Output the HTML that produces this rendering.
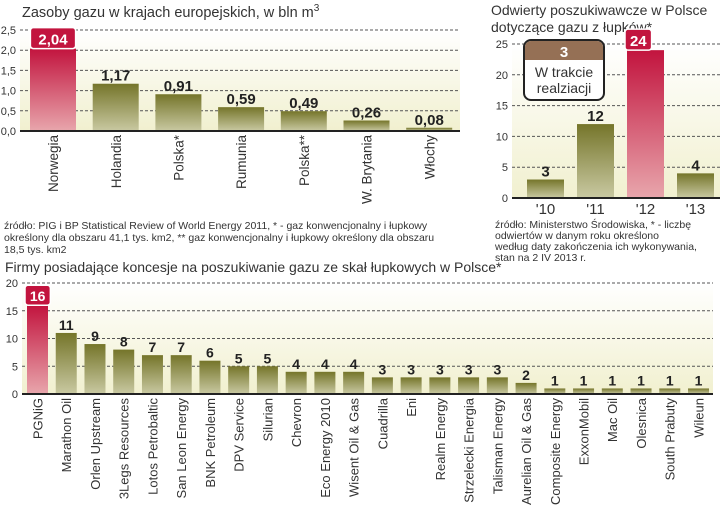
<!DOCTYPE html>
<html><head><meta charset="utf-8">
<style>
body{margin:0;background:#fff;}
svg{display:block;font-family:"Liberation Sans",sans-serif;}
.t{font-family:"Liberation Sans",sans-serif;fill:#333;}
.v{font-family:"Liberation Sans",sans-serif;font-weight:bold;fill:#222;}
</style></head><body>
<svg id="s" width="720" height="513" viewBox="0 0 720 513" xmlns="http://www.w3.org/2000/svg">
<defs>
<linearGradient id="ol" x1="0" y1="0" x2="0" y2="1"><stop offset="0" stop-color="#75752a"/><stop offset="1" stop-color="#c9c9a2"/></linearGradient>
<linearGradient id="rd" x1="0" y1="0" x2="0" y2="1"><stop offset="0" stop-color="#c2143e"/><stop offset="1" stop-color="#e8a6ac"/></linearGradient>
<linearGradient id="bg" x1="0" y1="0" x2="0" y2="1"><stop offset="0" stop-color="#ffffff"/><stop offset="1" stop-color="#f1f0cf"/></linearGradient>
</defs>
<text class="t" x="22" y="17" font-size="14.5">Zasoby gazu w krajach europejskich, w bln m<tspan font-size="10" dy="-6">3</tspan></text>
<text class="t" x="491" y="15" font-size="14">Odwierty poszukiwawcze w Polsce</text>
<text class="t" x="491" y="32" font-size="14">dotyczące gazu z łupków*</text>
<g font-size="10.5">
<text class="t" x="4" y="229">źródło: PIG i BP Statistical Review of World Energy 2011, * - gaz konwencjonalny i łupkowy</text>
<text class="t" x="4" y="241">określony dla obszaru 41,1 tys. km2, ** gaz konwencjonalny i łupkowy określony dla obszaru</text>
<text class="t" x="4" y="253">18,5 tys. km2</text>
</g>
<g font-size="10.5">
<text class="t" x="495" y="228">źródło: Ministerstwo Środowiska, * - liczbę</text>
<text class="t" x="495" y="239">odwiertów w danym roku określono</text>
<text class="t" x="495" y="250">według daty zakończenia ich wykonywania,</text>
<text class="t" x="495" y="261">stan na 2 IV 2013 r.</text>
</g>
<text class="t" x="5" y="272" font-size="14">Firmy posiadające koncesje na poszukiwanie gazu ze skał łupkowych w Polsce*</text>
<text class="t" x="709" y="298" font-size="10.5" text-anchor="end">źródło: Ministerstwo Środowiska, *stan na 1 marca 2013 r.</text>
<g id="g1"></g><g id="g2"></g><g id="g3"></g>
</svg>
<script>
const c1Cats=["Norwegia","Holandia","Polska*","Rumunia","Polska**","W. Brytania","Włochy"];
const c1Vals=[2.04,1.17,0.91,0.59,0.49,0.26,0.08];
const c1Ticks=[0,0.5,1,1.5,2,2.5];
const c2Cats=["'10","'11","'12","'13"];
const c2Vals=[3,12,24,4];
const c2Ticks=[0,5,10,15,20,25];
const c3Cats=["PGNiG","Marathon Oil","Orlen Upstream","3Legs Resources","Lotos Petrobaltic","San Leon Energy","BNK Petroleum","DPV Service","Silurian","Chevron","Eco Energy 2010","Wisent Oil & Gas","Cuadrilla","Eni","Realm Energy","Strzelecki Energia","Talisman Energy","Aurelian Oil & Gas","Composite Energy","ExxonMobil","Mac Oil","Olesnica","South Prabuty","Wileun"];
const c3Vals=[16,11,9,8,7,7,6,5,5,4,4,4,3,3,3,3,3,2,1,1,1,1,1,1];
const c3Ticks=[0,5,10,15,20];
const NS="http://www.w3.org/2000/svg";
function mk(p,tag,a,txt){const e=document.createElementNS(NS,tag);for(const k in a)e.setAttribute(k,a[k]);if(txt!==undefined)e.textContent=txt;p.appendChild(e);return e;}
function fmt(v,dec){return dec?v.toFixed(dec).replace('.',','):String(v);}
function chart(g,o){
  const y=v=>o.y0-(v-o.min)/(o.max-o.min)*(o.y0-o.y1);
  const x=i=>o.x0+i*o.pitch;
  const bgr=mk(g,'rect',{x:o.gx0,y:o.y1,width:o.gx1-o.gx0,height:o.y0-o.y1,fill:'url(#bg)'});
  
  
  o.ticks.forEach(t=>{
    if(t>0){const l=mk(g,'line',{x1:o.gx0,x2:o.gx1,y1:y(t),y2:y(t),stroke:'#555','stroke-width':1,'stroke-dasharray':'3,2'});
    
    }
    const tl=mk(g,'text',{x:o.gx0-4,y:y(t)+4,'font-size':11,'text-anchor':'end',class:'t',fill:'#555'},fmt(t,o.tdec));
    
    
  });
  o.vals.forEach((v,i)=>{
    const hi=o.red.includes(i);
    const b=mk(g,'rect',{x:x(i),y:y(v),width:o.bw,height:o.y0-y(v),fill:hi?'url(#rd)':'url(#ol)'});
    
    
    const cx=x(i)+o.bw/2, s=fmt(v,o.vdec);
    if(hi){
      const w=s.length*o.vfs*0.62+8;
      const bx=o.redBoxLeft?x(i)-2:cx-w/2;
      const rr=mk(g,'rect',{x:bx,y:y(v)-o.vfs-6,width:w,height:o.vfs+6,rx:3,fill:'#c2143e',stroke:'#fff','stroke-width':1.5});
      
      
      const vt=mk(g,'text',{x:bx+w/2,y:y(v)-4,'font-size':o.vfs,'text-anchor':'middle',class:'v',style:'fill:#fff'},s);
      
      
    }else{
      const vt=mk(g,'text',{x:cx,y:y(v)-3,'font-size':o.vfs,'text-anchor':'middle',class:'v'},s);
      
      
    }
    let cl;
    if(o.rot){cl=mk(g,'text',{x:0,y:0,'font-size':o.cfs,'text-anchor':'end',class:'t',fill:'#222',transform:`translate(${cx+o.cfs*0.38},${o.y0+4}) rotate(-90)`},o.cats[i]);}
    else{cl=mk(g,'text',{x:cx,y:o.y0+16,'font-size':o.cfs,'text-anchor':'middle',class:'t',fill:'#222'},o.cats[i]);}
    
    
  });
  const ax=mk(g,'line',{x1:o.gx0,x2:o.gx1,y1:o.y0,y2:o.y0,stroke:'#222','stroke-width':2});
  
  
}
chart(document.getElementById('g1'),{cats:c1Cats,vals:c1Vals,ticks:c1Ticks,min:0,max:2.5,y0:131,y1:30,x0:30,pitch:62.7,bw:46,gx0:20,gx1:460,tdec:1,vdec:2,vfs:15,cfs:13.5,rot:true,red:[0]});
chart(document.getElementById('g2'),{cats:c2Cats,vals:c2Vals,ticks:c2Ticks,min:0,max:25,y0:198,y1:44,x0:527,pitch:50,bw:37,gx0:512,gx1:720,tdec:0,vdec:0,vfs:15,cfs:15,rot:false,red:[2],redBoxLeft:true});
chart(document.getElementById('g3'),{cats:c3Cats,vals:c3Vals,ticks:c3Ticks,min:0,max:20,y0:394,y1:283,x0:27,pitch:28.74,bw:21,gx0:22,gx1:713,tdec:0,vdec:0,vfs:14,cfs:13,rot:true,red:[0],redBoxLeft:true});
const g2=document.getElementById('g2');
const co=mk(g2,'g',{});


mk(co,'rect',{x:524,y:40,width:80,height:60,rx:7,fill:'#fff',stroke:'#222','stroke-width':2});
mk(co,'path',{d:'M531,41 h66 a6,6 0 0 1 6,6 v13 h-78 v-13 a6,6 0 0 1 6,-6z',fill:'#957055'});
mk(co,'text',{x:564,y:57,'font-size':15,'text-anchor':'middle',class:'v',style:'fill:#fff'},'3');
mk(co,'text',{x:564,y:77,'font-size':14,'text-anchor':'middle',class:'t',fill:'#222'},'W trakcie');
mk(co,'text',{x:564,y:93,'font-size':14,'text-anchor':'middle',class:'t',fill:'#222'},'realziacji');
</script>
</body></html>
